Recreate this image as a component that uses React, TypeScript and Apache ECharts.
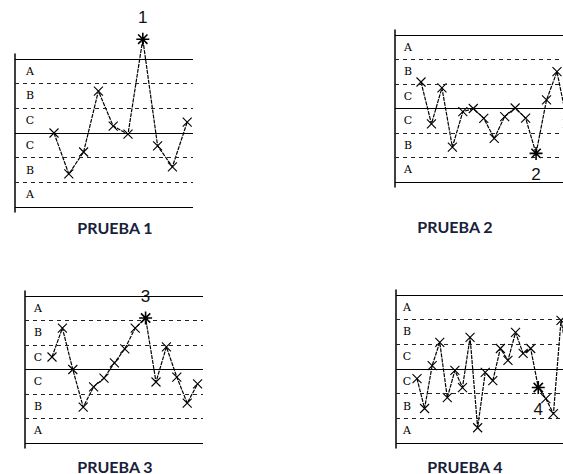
import React, { useEffect, useRef } from "react";
import * as echarts from "echarts";

// ---- data ----
const p1Values = [0, -1.66, -0.77, 1.7, 0.28, -0.05, 3.8, -0.52, -1.37, 0.44];
const p2Values = [1.08, -0.63, 0.84, -1.57, -0.13, 0.0, -0.4, -1.22, -0.33, 0.02, -0.39, -1.83, 0.35, 1.5, -0.6];
const p3Values = [0.51, 1.69, 0.0, -1.53, -0.71, -0.35, 0.27, 0.84, 1.69, 2.1, -0.51, 0.92, -0.31, -1.37, -0.59];
const p4Values = [-0.39, -1.6, 0.14, 1.08, -1.16, -0.06, -0.75, 1.28, -2.38, -0.14, -0.47, 0.83, 0.35, 1.48, 0.63, 0.83, -0.75, -1.2, -1.81, 1.97, 0.3];
const seriesValues = [p1Values, p2Values, p3Values, p4Values];
const flagIndex = [6, 11, 9, 16];
const flagLabels = ["1", "2", "3", "4"];
const titles = ["PRUEBA 1", "PRUEBA 2", "PRUEBA 3", "PRUEBA 4"];
const zoneLetters = ["A", "B", "C", "C", "B", "A"];
const zoneCenters = [2.5, 1.5, 0.5, -0.5, -1.5, -2.5];
const zoneLines = [3, 2, 1, 0, -1, -2, -3];

// ---- layout ----
const panels = [
  { axisX: 15, rightX: 193, top: 54, bottom: 212, firstX: 54, step: 14.8, labelX: 30, titleX: 115, titleY: 227, flagPos: "top" },
  { axisX: 395, rightX: 563, top: 30, bottom: 187, firstX: 421, step: 10.46, labelX: 408, titleX: 455, titleY: 226, flagPos: "bottom" },
  { axisX: 25, rightX: 203, top: 291, bottom: 448, firstX: 52, step: 10.4, labelX: 38, titleX: 115, titleY: 466, flagPos: "top" },
  { axisX: 396, rightX: 563, top: 290, bottom: 448, firstX: 417, step: 7.58, labelX: 407, titleX: 465, titleY: 466, flagPos: "bottom" },
];

const X_SYMBOL = "path://M0,0L10,10M10,0L0,10";
const STAR_SYMBOL = "path://M0,7L14,7M7,0L7,14M2,2L12,12M12,2L2,12";

export default function App() {
  const ref = useRef<HTMLDivElement>(null);
  useEffect(() => {
    if (!ref.current) return;
    const chart = echarts.init(ref.current, null, { renderer: "svg" });
    const grid: any[] = [];
    const xAxis: any[] = [];
    const yAxis: any[] = [];
    const series: any[] = [];
    const graphic: any[] = [];
    panels.forEach((p, k) => {
      grid.push({ left: p.axisX, top: p.top, width: p.rightX - p.axisX, height: p.bottom - p.top });
      const toX = (px: number) => (px - p.firstX) / p.step;
      xAxis.push({ gridIndex: k, type: "value", min: toX(p.axisX), max: toX(p.rightX), show: false });
      yAxis.push({
        gridIndex: k, type: "value", min: -3.2, max: 3.2,
        axisLine: { show: true, onZero: false, lineStyle: { color: "#000", width: 1.5 } },
        axisTick: { show: false }, axisLabel: { show: false }, splitLine: { show: false },
      });
      const vals = seriesValues[k];
      const data = vals.map((v, i) => {
        if (i === flagIndex[k]) {
          return {
            value: [i, v], symbol: STAR_SYMBOL, symbolSize: 13,
            itemStyle: { color: "none", borderColor: "#000", borderWidth: 1.6 },
            label: {
              show: true, position: p.flagPos, distance: 4, formatter: flagLabels[k],
              fontFamily: "Liberation Sans", fontSize: 17, color: "#111",
            },
          };
        }
        return [i, v];
      });
      series.push({
        type: "line", xAxisIndex: k, yAxisIndex: k, data, clip: false,
        symbol: X_SYMBOL, symbolSize: 9, showSymbol: true,
        itemStyle: { color: "none", borderColor: "#000", borderWidth: 1.1 },
        lineStyle: { color: "#000", width: 1.2, type: [4, 1] },
        markLine: {
          silent: true, symbol: "none", label: { show: false },
          data: zoneLines.map((z) => ({
            yAxis: z,
            lineStyle: z === 0 || Math.abs(z) === 3
              ? { color: "#000", width: 1.2, type: "solid" }
              : { color: "#222", width: 1, type: [4, 4] },
          })),
        },
        z: 3,
      });
      series.push({
        type: "scatter", xAxisIndex: k, yAxisIndex: k, symbolSize: 1,
        itemStyle: { color: "#fff", opacity: 0 }, silent: true,
        data: zoneLetters.map((l, i) => ({ value: [toX(p.labelX), zoneCenters[i]], name: l })),
        label: {
          show: true, position: "inside", formatter: (d: any) => d.name,
          fontFamily: "DejaVu Serif", fontSize: 11, color: "#000",
          textBorderWidth: 0, textBorderColor: "transparent", opacity: 1,
        },
      });
      graphic.push({
        type: "text", x: p.titleX, y: p.titleY,
        style: {
          text: titles[k], textAlign: "center", textVerticalAlign: "middle",
          fontFamily: "Lato", fontWeight: "bold", fontSize: 16, fill: "#18213a",
        },
      });
    });
    chart.setOption({ animation: false, grid, xAxis, yAxis, series, graphic });
    return () => chart.dispose();
  }, []);
  return (
    <div
      ref={ref}
      style={{ position: "fixed", left: 0, top: 0, width: 563, height: 474, background: "#fff", overflow: "hidden" }}
    />
  );
}
